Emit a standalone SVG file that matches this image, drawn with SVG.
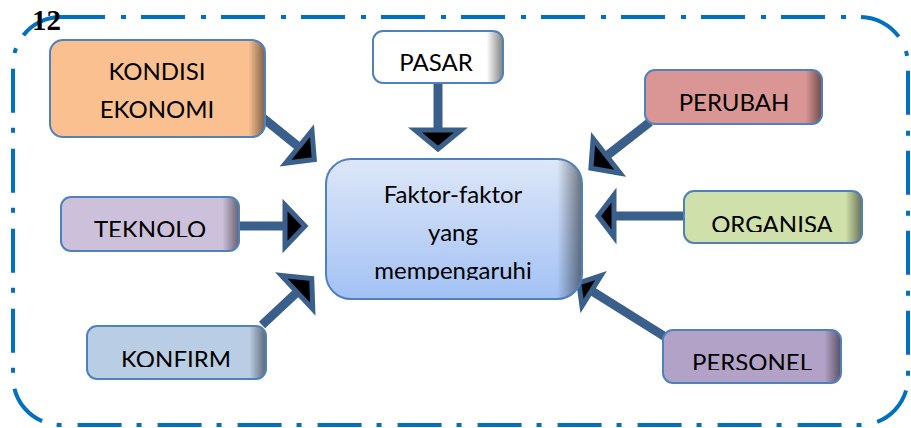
<svg xmlns="http://www.w3.org/2000/svg" width="911" height="428" viewBox="0 0 911 428">
<style>
.box{stroke:#4F81BD;stroke-width:2}
.edge{fill:none;stroke:#4F81BD;stroke-width:2}
.shade{fill:url(#shade)}
.lbl{font-family:Lato,"Liberation Sans",sans-serif;font-size:24px;fill:#000;text-anchor:middle}
.num{font-family:"Liberation Serif","Times New Roman",serif;font-weight:bold;font-size:29px;fill:#000}
.shaft{stroke:#3A5F8B;stroke-width:9;fill:none}
.head{fill:#000;stroke:#3A5F8B;stroke-width:5;stroke-linejoin:miter;stroke-miterlimit:10}
.frame{fill:none;stroke:#0070C0;stroke-width:4;stroke-dasharray:44 16 5 15}
</style>
<defs>
<linearGradient id="shade" x1="0" y1="0" x2="1" y2="0">
<stop offset="0.45" stop-color="#000" stop-opacity="0"/>
<stop offset="1" stop-color="#000" stop-opacity="0.5"/>
</linearGradient>
<linearGradient id="centerFill" x1="0" y1="0" x2="0" y2="1">
<stop offset="0" stop-color="#DDE7F8"/>
<stop offset="1" stop-color="#A3C1F4"/>
</linearGradient>
<clipPath id="cTek"><rect x="61" y="197" width="178" height="40"/></clipPath>
<clipPath id="cKon"><rect x="87" y="326" width="179" height="41"/></clipPath>
<clipPath id="cOrg"><rect x="684" y="191" width="178" height="41"/></clipPath>
<clipPath id="cPer"><rect x="663" y="330" width="178" height="40"/></clipPath>
<clipPath id="cCen"><rect x="326" y="159" width="256" height="121"/></clipPath>
</defs>
<rect width="911" height="428" fill="#fff"/>
<rect class="frame" x="13" y="17" width="895" height="408" rx="48" ry="48"/>
<text class="num" x="32" y="30">12</text>

<g id="connectors">
<g transform="translate(263 118) rotate(39)"><line class="shaft" x1="0" y1="0" x2="47" y2="0"/><polygon class="head" points="46,-21 66,0 46,21"/></g>
<g transform="translate(438 83) rotate(90)"><line class="shaft" x1="0" y1="0" x2="48" y2="0"/><polygon class="head" points="47,-23 66,0 47,23"/></g>
<g transform="translate(650 122) rotate(142)"><line class="shaft" x1="0" y1="0" x2="56" y2="0"/><polygon class="head" points="55,-22 75,0 55,22"/></g>
<g transform="translate(239 226)"><line class="shaft" x1="0" y1="0" x2="47" y2="0"/><polygon class="head" points="46,-21 66,0 46,21"/></g>
<g transform="translate(684 216) rotate(180)"><line class="shaft" x1="0" y1="0" x2="71" y2="0"/><polygon class="head" points="70,-21 86,0 70,21"/></g>
<g transform="translate(262 325) rotate(-43)"><line class="shaft" x1="0" y1="0" x2="49" y2="0"/><polygon class="head" points="48,-23 68,0 48,23"/></g>
<g transform="translate(667 338) rotate(212)"><line class="shaft" x1="0" y1="0" x2="90" y2="0"/><polygon class="head" points="89,-18 104,0 89,18"/></g>
</g>

<g id="kondisi">
<rect x="50" y="40" width="215" height="97" rx="13" fill="#FAC090"/>
<rect class="shade" x="235" y="40" width="30" height="97" rx="13"/>
<rect class="edge" x="50" y="40" width="215" height="97" rx="13"/>
<text class="lbl" x="157" y="80">KONDISI</text>
<text class="lbl" x="157" y="118">EKONOMI</text>
</g>

<g id="pasar">
<rect x="373" y="31" width="130" height="52" rx="10" fill="#FFFFFF"/>
<rect class="shade" x="473" y="31" width="30" height="52" rx="10"/>
<rect class="edge" x="373" y="31" width="130" height="52" rx="10"/>
<text class="lbl" x="436" y="71">PASAR</text>
</g>

<g id="perubah">
<rect x="645" y="70" width="177" height="54" rx="10" fill="#D99694"/>
<rect class="shade" x="792" y="70" width="30" height="54" rx="10"/>
<rect class="edge" x="645" y="70" width="177" height="54" rx="10"/>
<text class="lbl" x="734" y="111">PERUBAH</text>
</g>

<g id="teknolo">
<rect x="61" y="197" width="178" height="54" rx="10" fill="#CCC0DA"/>
<rect class="shade" x="209" y="197" width="30" height="54" rx="10"/>
<rect class="edge" x="61" y="197" width="178" height="54" rx="10"/>
<text class="lbl" x="150" y="238" clip-path="url(#cTek)">TEKNOLO</text>
</g>

<g id="konfirm">
<rect x="87" y="326" width="179" height="53" rx="10" fill="#B9CDE5"/>
<rect class="shade" x="236" y="326" width="30" height="53" rx="10"/>
<rect class="edge" x="87" y="326" width="179" height="53" rx="10"/>
<text class="lbl" x="176" y="368" clip-path="url(#cKon)">KONFIRM</text>
</g>

<g id="organisa">
<rect x="684" y="191" width="178" height="52" rx="10" fill="#D0E0AA"/>
<rect class="shade" x="832" y="191" width="30" height="52" rx="10"/>
<rect class="edge" x="684" y="191" width="178" height="52" rx="10"/>
<text class="lbl" x="772" y="233" clip-path="url(#cOrg)">ORGANISA</text>
</g>

<g id="personel">
<rect x="663" y="330" width="178" height="53" rx="10" fill="#B3A2C7"/>
<rect class="shade" x="811" y="330" width="30" height="53" rx="10"/>
<rect class="edge" x="663" y="330" width="178" height="53" rx="10"/>
<text class="lbl" x="752" y="371" clip-path="url(#cPer)">PERSONEL</text>
</g>

<g id="center">
<rect x="326" y="159" width="256" height="140" rx="25" fill="url(#centerFill)"/>
<rect class="shade" x="537" y="159" width="45" height="140" rx="25"/>
<rect class="edge" x="326" y="159" width="256" height="140" rx="25"/>
<g clip-path="url(#cCen)">
<text class="lbl" x="453" y="203">Faktor-faktor</text>
<text class="lbl" x="453" y="241">yang</text>
<text class="lbl" x="453" y="279">mempengaruhi</text>
</g>
</g>
</svg>
